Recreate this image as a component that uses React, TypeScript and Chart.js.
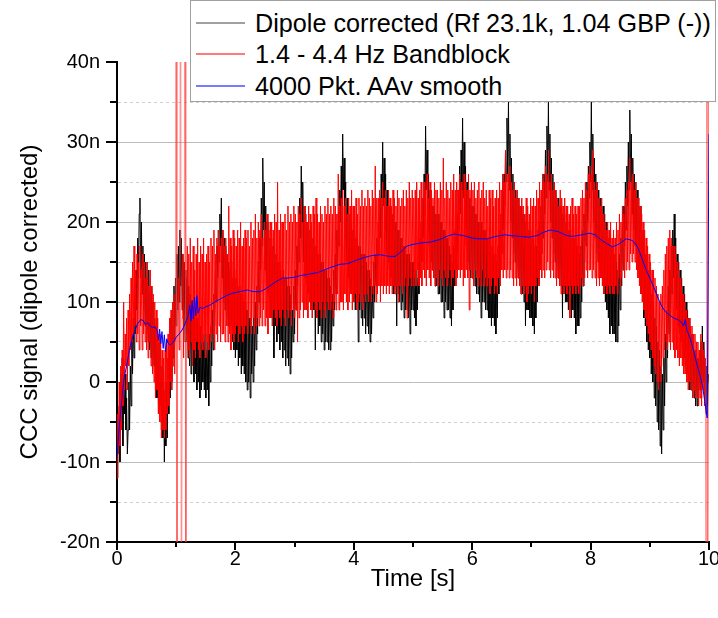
import React, { useEffect, useRef } from "react";
import { Chart, registerables } from "chart.js";

Chart.register(...registerables);

// Sampling step (s) of the two recorded traces
const SAMPLE_STEP = 0.0125;

// Dipole corrected trace (n units), one value per sample from t = 0 s (16 samples = 0.2 s per row)
const dipoleValues = [
  -12, -5, -9, -3, -10, 1, -6, 3, -8, -1, -4, 1, -6, -2, -9, -6,
  0, -6, 2, -3, 6, 1, 8, 3, 12, 6, 14, 9, 18, 13, 21, 23,
  13, 20, 11, 17, 9, 16, 7, 15, 6, 13, 5, 14, 4, 11, 3, 12,
  1, 10, 2, 8, -1, 7, -2, 6, -4, 5, -3, 3, -6, 2, -7, 0,
  -10, -1, -8, 0, -7, 3, -4, 4, -2, 8, 0, 9, 3, 12, 5, 13,
  7, 16, 9, 17, 10, 19, 12, 18, 9, 16, 7, 15, 5, 14, 6, 13,
  3, 12, 2, 11, 1, 10, 3, 9, 0, 9, 1, 8, -1, 8, 0, 7,
  -2, 7, -1, 6, 0, 5, -1, 6, -2, 4, -1, 5, -3, 6, 0, 7,
  2, 9, 4, 11, 7, 14, 10, 17, 13, 19, 15, 21, 17, 23, 13, 19,
  10, 18, 9, 17, 8, 16, 7, 15, 6, 14, 7, 15, 5, 13, 4, 14,
  3, 13, 4, 12, 2, 12, 3, 11, 1, 11, 2, 10, 1, 10, 0, 9,
  -1, 9, 0, 8, -2, 8, 1, 7, 0, 8, 2, 10, 4, 12, 6, 15,
  10, 18, 14, 23, 17, 28, 19, 25, 14, 22, 12, 20, 11, 19, 10, 18,
  8, 18, 7, 17, 3, 16, 7, 16, 5, 15, 6, 15, 4, 14, 5, 13,
  3, 14, 4, 13, 2, 13, 3, 12, 2, 12, 1, 11, 3, 9, 5, 12,
  6, 14, 9, 17, 12, 20, 15, 23, 18, 27, 20, 25, 15, 22, 13, 21,
  12, 20, 11, 19, 10, 19, 9, 18, 8, 18, 9, 17, 4, 17, 8, 16,
  6, 16, 7, 16, 5, 15, 6, 15, 4, 14, 5, 14, 5, 13, 4, 13,
  4, 12, 5, 11, 7, 14, 9, 16, 11, 19, 14, 21, 17, 24, 20, 27,
  22, 31, 24, 28, 18, 25, 15, 23, 13, 22, 12, 21, 11, 20, 12, 19,
  10, 19, 9, 18, 10, 18, 5, 17, 9, 17, 8, 16, 7, 16, 8, 16,
  6, 15, 7, 14, 6, 14, 5, 13, 6, 12, 8, 15, 10, 16, 12, 18,
  13, 20, 16, 23, 18, 26, 21, 30, 22, 28, 19, 26, 16, 24, 15, 23,
  14, 22, 13, 21, 12, 21, 11, 20, 12, 20, 7, 19, 11, 19, 10, 18,
  9, 18, 10, 17, 8, 17, 9, 16, 9, 16, 8, 16, 6, 15, 9, 15,
  9, 15, 8, 14, 7, 13, 9, 15, 11, 18, 13, 20, 15, 23, 18, 26,
  21, 32, 24, 29, 19, 26, 17, 24, 15, 23, 14, 22, 13, 22, 12, 21,
  12, 21, 11, 21, 11, 20, 10, 20, 10, 19, 8, 19, 10, 18, 9, 18,
  9, 17, 8, 16, 7, 15, 9, 17, 12, 19, 14, 21, 16, 24, 19, 27,
  21, 29, 24, 33, 23, 30, 19, 27, 17, 25, 15, 24, 14, 23, 13, 22,
  13, 22, 12, 22, 12, 21, 11, 21, 11, 20, 10, 20, 8, 20, 10, 19,
  10, 19, 9, 19, 9, 18, 8, 18, 8, 17, 7, 17, 8, 16, 7, 16,
  6, 15, 8, 17, 11, 19, 13, 21, 16, 24, 19, 26, 22, 29, 25, 33,
  26, 35, 24, 31, 20, 28, 18, 26, 16, 25, 15, 24, 14, 23, 13, 23,
  12, 22, 11, 22, 11, 21, 10, 21, 7, 20, 9, 20, 9, 19, 8, 19,
  8, 18, 7, 18, 6, 17, 8, 17, 10, 19, 12, 20, 14, 22, 16, 24,
  18, 26, 21, 29, 23, 32, 25, 35, 24, 31, 20, 28, 18, 26, 16, 25,
  15, 24, 14, 23, 13, 23, 12, 22, 12, 22, 8, 21, 11, 21, 10, 20,
  10, 20, 9, 19, 9, 19, 8, 18, 9, 18, 8, 18, 6, 17, 7, 17,
  7, 16, 8, 17, 10, 19, 12, 21, 15, 23, 17, 25, 20, 27, 23, 30,
  25, 35, 24, 31, 20, 28, 18, 26, 16, 25, 15, 24, 14, 23, 13, 22,
  12, 22, 11, 21, 10, 20, 9, 19, 8, 18, 6, 17, 7, 17, 6, 16,
  6, 16, 5, 15, 5, 14, 7, 16, 9, 18, 12, 20, 14, 22, 17, 25,
  19, 27, 22, 30, 24, 34, 25, 31, 21, 28, 19, 26, 17, 25, 16, 24,
  14, 23, 13, 22, 11, 20, 10, 19, 8, 17, 7, 16, 5, 15, 4, 14,
  3, 13, 1, 11, 0, 10, -2, 8, -3, 7, -5, 5, -6, 4, -8, 2,
  -9, 1, -6, 3, -3, 6, 0, 9, 3, 12, 6, 14, 8, 17, 11, 19,
  13, 21, 11, 18, 9, 16, 7, 15, 6, 14, 5, 13, 4, 12, 3, 11,
  2, 10, 1, 9, 0, 8, -1, 7, -1, 6, -2, 5, -2, 4, -3, 4,
  -3, 3, -2, 4, -1, 5, -2, 7, 0, 5, -2, 3, -4, 2, -3, 1,
  0,
];

// 1.4 - 4.4 Hz band-block filtered trace (n units), same sampling
const bandblockValues = [
  -12, -4, -9, 0, -8, 2, -6, 4, -3, 10, -1, 6, 2, 8, -1, 9,
  2, 11, 4, 13, 5, 15, 6, 17, 7, 14, 5, 16, 6, 15, 4, 17,
  7, 14, 4, 16, 6, 15, 5, 13, 4, 15, 3, 12, 5, 14, 2, 12,
  1, 11, 0, 10, -2, 9, -1, 8, -4, 6, -5, 5, -7, 4, -6, 3,
  -7, 4, -6, 5, -4, 6, -3, 8, 0, 9, -1, 10, 2, 11, 1, 10,
  90, -70, 10, 13, 4, 15, 90, -70, 8, 16, 3, 15, 90, -70, 5, 17,
  4, 16, 3, 18, 5, 15, 2, 17, 4, 14, 3, 16, 5, 18, 4, 15,
  3, 17, 5, 16, 4, 18, 6, 15, 3, 16, 5, 17, 4, 15, 6, 18,
  5, 17, 6, 19, 4, 16, 6, 18, 5, 19, 7, 17, 5, 18, 6, 19,
  6, 17, 5, 18, 7, 16, 5, 22, 6, 18, 4, 17, 6, 19, 5, 18,
  6, 17, 7, 19, 5, 18, 6, 20, 7, 17, 5, 18, 6, 19, 7, 18,
  6, 19, 8, 17, 7, 20, 6, 18, 8, 19, 6, 21, 7, 18, 8, 20,
  7, 19, 8, 21, 7, 18, 9, 20, 7, 19, 8, 21, 6, 19, 8, 20,
  8, 20, 7, 19, 9, 21, 8, 20, 7, 25, 9, 19, 8, 21, 7, 20,
  9, 20, 8, 21, 7, 19, 9, 22, 8, 20, 9, 21, 7, 20, 9, 22,
  8, 21, 9, 20, 5, 22, 8, 21, 9, 23, 10, 20, 8, 22, 9, 21,
  9, 20, 8, 22, 10, 21, 9, 20, 8, 22, 10, 21, 9, 23, 8, 21,
  10, 20, 9, 22, 8, 21, 10, 20, 9, 22, 8, 21, 10, 23, 9, 21,
  9, 22, 10, 21, 8, 23, 10, 22, 9, 21, 11, 26, 9, 22, 10, 23,
  10, 24, 9, 22, 11, 23, 10, 21, 9, 23, 10, 22, 11, 24, 9, 22,
  10, 22, 11, 23, 9, 21, 10, 23, 11, 22, 10, 24, 9, 22, 11, 23,
  10, 22, 11, 24, 10, 23, 12, 22, 10, 24, 11, 23, 12, 27, 10, 23,
  11, 23, 12, 24, 10, 23, 12, 25, 11, 23, 12, 24, 11, 22, 12, 24,
  11, 23, 12, 22, 11, 24, 12, 23, 11, 22, 12, 24, 10, 23, 12, 22,
  12, 23, 11, 24, 12, 22, 13, 24, 8, 23, 12, 25, 13, 23, 12, 24,
  12, 23, 13, 24, 12, 25, 14, 23, 12, 24, 13, 25, 12, 23, 14, 25,
  13, 24, 12, 26, 14, 23, 13, 25, 12, 24, 14, 23, 13, 25, 12, 24,
  13, 24, 12, 23, 14, 25, 13, 24, 12, 28, 14, 23, 13, 25, 12, 24,
  13, 23, 14, 25, 12, 24, 13, 26, 14, 24, 12, 25, 13, 24, 14, 26,
  13, 25, 14, 24, 12, 26, 13, 25, 14, 24, 13, 26, 9, 24, 14, 25,
  13, 24, 12, 25, 14, 23, 13, 24, 12, 25, 13, 23, 12, 24, 14, 25,
  12, 23, 13, 24, 12, 22, 13, 24, 11, 23, 12, 24, 13, 22, 11, 23,
  12, 24, 11, 23, 13, 25, 12, 24, 14, 26, 13, 25, 14, 29, 13, 26,
  14, 26, 13, 27, 14, 25, 13, 24, 12, 25, 13, 23, 12, 24, 13, 23,
  12, 22, 11, 23, 12, 22, 11, 21, 12, 23, 10, 22, 11, 21, 12, 23,
  11, 22, 12, 23, 10, 22, 12, 24, 13, 23, 12, 25, 14, 24, 13, 26,
  14, 25, 13, 27, 14, 26, 15, 29, 14, 25, 13, 26, 14, 24, 13, 25,
  13, 24, 12, 23, 13, 22, 12, 24, 11, 23, 12, 22, 11, 23, 12, 22,
  11, 22, 12, 21, 8, 22, 12, 23, 11, 21, 12, 22, 11, 21, 12, 22,
  11, 22, 12, 23, 13, 24, 12, 23, 13, 25, 14, 24, 13, 26, 14, 27,
  14, 26, 13, 29, 14, 25, 13, 24, 12, 25, 13, 23, 12, 22, 13, 23,
  12, 21, 11, 20, 12, 19, 11, 20, 12, 19, 11, 20, 12, 18, 11, 19,
  11, 18, 12, 20, 11, 19, 13, 21, 12, 20, 13, 22, 14, 21, 13, 23,
  14, 24, 15, 25, 14, 28, 16, 25, 15, 26, 16, 24, 15, 25, 14, 23,
  13, 23, 12, 22, 11, 21, 10, 20, 9, 19, 8, 18, 7, 17, 6, 16,
  5, 15, 4, 14, 3, 14, 2, 13, 1, 12, 0, 11, -1, 10, 0, 11,
  2, 12, 3, 14, 4, 16, 5, 17, 4, 18, 5, 19, 4, 18, 5, 17,
  4, 17, 3, 16, 4, 15, 3, 14, 2, 13, 3, 12, 2, 11, 1, 10,
  1, 9, 0, 8, -1, 8, 0, 7, -1, 7, -2, 6, -1, 6, -2, 5,
  -2, 5, -3, 4, -2, 6, -3, 5, -1, 4, -3, 3, -40, 60, -40, 60,
  -30,
];

// 4000 point adjacent-average smooth (time s, value n)
const smoothTimes = [
  0, 0.04, 0.08, 0.12, 0.17, 0.21, 0.25, 0.3, 0.35, 0.4, 0.44, 0.48, 0.52, 0.56, 0.6, 0.64, 0.68,
  0.7, 0.72, 0.74, 0.76, 0.78, 0.8, 0.82, 0.84, 0.86, 0.9, 0.95, 1.0, 1.05, 1.1, 1.15, 1.2,
  1.23, 1.25, 1.27, 1.29, 1.31, 1.33, 1.35, 1.37, 1.4, 1.45, 1.5, 1.57, 1.65, 1.75, 1.85, 1.95,
  2.08, 2.2, 2.3, 2.42, 2.5, 2.6, 2.7, 2.8, 2.9, 3.0, 3.1, 3.26, 3.4, 3.5, 3.6, 3.76, 3.9, 4.0,
  4.15, 4.3, 4.45, 4.6, 4.7, 4.8, 4.9, 5.0, 5.15, 5.3, 5.45, 5.6, 5.7, 5.85, 6.0, 6.1, 6.25,
  6.4, 6.55, 6.67, 6.8, 6.96, 7.1, 7.2, 7.32, 7.45, 7.6, 7.7, 7.85, 7.98, 8.08, 8.17, 8.27,
  8.37, 8.47, 8.6, 8.7, 8.77, 8.83, 8.89, 8.95, 9.0, 9.07, 9.14, 9.2, 9.26, 9.33, 9.4, 9.47,
  9.52, 9.57, 9.6, 9.63, 9.68, 9.74, 9.8, 9.85, 9.89, 9.93, 9.97, 10.0,
];
const smoothValues = [
  -9.3, -5.5, -2.3, 0.5, 2.3, 4, 5.3, 6.4, 7.3, 7.8, 7.7, 7.2, 7.4, 7.0, 6.8, 6.9, 6.4,
  5.2, 6.6, 4.8, 6.3, 4.2, 5.9, 3.8, 5.4, 4.9, 4.6, 5.0, 5.6, 6.0, 6.5, 7.3, 8.2,
  9.6, 7.6, 10.2, 7.9, 10.6, 8.3, 10.8, 8.6, 9.3, 9.2, 9.4, 9.6, 10.0, 10.4, 10.8, 11.1,
  11.3, 11.5, 11.3, 11.3, 11.6, 12.1, 12.6, 13.0, 13.0, 13.1, 13.3, 13.5, 13.7, 14.0, 14.3, 14.7, 14.8, 15.1,
  15.5, 15.8, 15.9, 15.7, 15.7, 16.3, 17.0, 17.2, 17.4, 17.5, 17.8, 18.3, 18.5, 18.3, 18.0, 17.9, 17.9,
  18.2, 18.4, 18.3, 18.2, 18.1, 18.3, 18.7, 19.0, 18.8, 18.3, 18.2, 18.4, 18.6, 18.4, 17.8, 17.3,
  16.9, 17.2, 17.9, 17.7, 17.2, 16.2, 15.0, 13.8, 13.0, 11.8, 10.5, 9.5, 8.8, 8.4, 8.0, 7.8,
  7.6, 7.0, 7.8, 6.4, 5.5, 3.9, 2.1, 0.8, -0.4, -2.5, -4.5, 31,
];

// Axis settings
const X_MIN = 0;
const X_MAX = 10;
const Y_MIN = -20;
const Y_MAX = 40;
const X_TICK_STEP = 1;
const Y_TICK_STEP = 5;

const seriesLabels = [
  "Dipole corrected (Rf 23.1k, 1.04 GBP (-))",
  "1.4 - 4.4 Hz Bandblock",
  "4000 Pkt. AAv smooth",
];
const seriesColors = ["#000000", "#ff0000", "#0000ff"];
const legendSwatchColors = ["#a0a0a0", "#ff7a7a", "#7a7aff"];

const FONT = "Arial, 'Liberation Sans', sans-serif";

const isMult = (v: number, m: number) => Math.abs(v / m - Math.round(v / m)) < 1e-9;

const outerTicks = {
  id: "outerTicks",
  afterDraw(chart: any) {
    const { ctx } = chart;
    const xs = chart.scales.x;
    const ys = chart.scales.y;
    ctx.save();
    ctx.strokeStyle = "#000";
    ctx.lineWidth = 2;
    ys.ticks.forEach((t: any) => {
      const py = Math.round(ys.getPixelForValue(t.value));
      const len = isMult(t.value, 10) ? 11 : 7;
      ctx.beginPath();
      ctx.moveTo(ys.right - len, py);
      ctx.lineTo(ys.right, py);
      ctx.stroke();
    });
    xs.ticks.forEach((t: any) => {
      const px = Math.round(xs.getPixelForValue(t.value));
      const len = isMult(t.value, 2) ? 8 : 5;
      ctx.beginPath();
      ctx.moveTo(px, xs.top);
      ctx.lineTo(px, xs.top + len);
      ctx.stroke();
    });
    ctx.restore();
  },
};

const outOfRange = (v: number) => v > Y_MAX || v < Y_MIN;

export default function App() {
  const canvasRef = useRef<HTMLCanvasElement | null>(null);

  useEffect(() => {
    if (!canvasRef.current) return;
    const dipolePts = dipoleValues.map((v, i) => ({ x: i * SAMPLE_STEP, y: v }));
    const bandPts = bandblockValues.map((v, i) => ({ x: i * SAMPLE_STEP, y: v }));
    const smoothPts = smoothValues.map((v, i) => ({ x: smoothTimes[i], y: v }));

    const chart = new Chart(canvasRef.current, {
      type: "line",
      data: {
        datasets: [
          {
            label: seriesLabels[0],
            data: dipolePts,
            borderColor: seriesColors[0],
            borderWidth: 1,
            pointRadius: 0,
            tension: 0,
            order: 3,
          },
          {
            label: seriesLabels[1],
            data: bandPts,
            borderColor: seriesColors[1],
            borderWidth: 1,
            pointRadius: 0,
            tension: 0,
            order: 2,
            segment: {
              borderColor: (c: any) =>
                outOfRange(c.p0.parsed.y) || outOfRange(c.p1.parsed.y)
                  ? "rgba(255,60,60,0.55)"
                  : undefined,
            },
          },
          {
            label: seriesLabels[2],
            data: smoothPts,
            borderColor: seriesColors[2],
            borderWidth: 1,
            pointRadius: 0,
            tension: 0,
            order: 1,
          },
        ],
      },
      options: {
        animation: false,
        responsive: false,
        parsing: false,
        events: [],
        layout: { padding: { top: 62, right: 9, left: 0, bottom: 0 } },
        plugins: { legend: { display: false }, tooltip: { enabled: false } },
        scales: {
          x: {
            type: "linear",
            min: X_MIN,
            max: X_MAX,
            ticks: {
              stepSize: X_TICK_STEP,
              autoSkip: false,
              maxRotation: 0,
              padding: 5,
              color: "#000",
              font: { size: 20, family: FONT },
              callback: (v: any) => (isMult(Number(v), 2) ? String(v) : ""),
            },
            grid: { drawOnChartArea: false, drawTicks: false },
            border: { display: true, color: "#000", width: 2 },
            title: {
              display: true,
              text: "Time [s]",
              color: "#000",
              font: { size: 24, family: FONT },
              padding: { top: 0, bottom: 24 },
            },
            afterFit: (s: any) => {
              s.height = 76;
              s.paddingLeft = 0;
              s.paddingRight = 0;
            },
          },
          y: {
            type: "linear",
            min: Y_MIN,
            max: Y_MAX,
            ticks: {
              stepSize: Y_TICK_STEP,
              autoSkip: false,
              padding: 17,
              color: "#000",
              font: { size: 20, family: FONT },
              callback: (v: any) => {
                const n = Number(v);
                if (!isMult(n, 10)) return "";
                return n === 0 ? "0" : `${n}n`;
              },
            },
            grid: {
              drawTicks: false,
              lineWidth: 1,
              color: (c: any) => {
                const v = c.tick ? c.tick.value : 0;
                if (v === Y_MAX || v === Y_MIN) return "rgba(0,0,0,0)";
                return isMult(v, 10) ? "#bcbcbc" : "#cfcfcf";
              },
            },
            border: {
              display: true,
              color: "#000",
              width: 2,
              dash: (c: any) => (c.tick && !isMult(c.tick.value, 10) ? [3, 3] : []),
            },
            title: {
              display: true,
              text: "CCC signal (dipole corrected)",
              color: "#000",
              font: { size: 24, family: FONT },
              padding: { top: 16, bottom: 0 },
            },
            afterFit: (s: any) => {
              s.width = 117;
            },
          },
        },
      },
      plugins: [outerTicks],
    } as any);
    return () => chart.destroy();
  }, []);

  const rowCenters = [22, 53, 85];

  return (
    <div
      style={{
        position: "fixed",
        left: 0,
        top: 0,
        width: 718,
        height: 618,
        background: "#fff",
        overflow: "hidden",
      }}
    >
      <canvas
        ref={canvasRef}
        width={718}
        height={618}
        style={{ position: "absolute", left: 0, top: 0, width: 718, height: 618 }}
      />
      <div
        style={{
          position: "absolute",
          left: 190,
          top: 0,
          width: 526,
          height: 102,
          boxSizing: "border-box",
          border: "1px solid #a0a0a0",
          background: "#fff",
        }}
      >
        {seriesLabels.map((lab, i) => (
          <div
            key={lab}
            style={{
              position: "absolute",
              left: 0,
              top: rowCenters[i] - 16,
              height: 32,
              width: 524,
            }}
          >
            <div
              style={{
                position: "absolute",
                left: 5,
                top: 15,
                width: 49,
                height: 2,
                background: legendSwatchColors[i],
              }}
            />
            <div
              style={{
                position: "absolute",
                left: 64,
                top: 0,
                lineHeight: "32px",
                fontSize: 25.2,
                fontFamily: FONT,
                color: "#000",
                whiteSpace: "nowrap",
              }}
            >
              {lab}
            </div>
          </div>
        ))}
      </div>
    </div>
  );
}
